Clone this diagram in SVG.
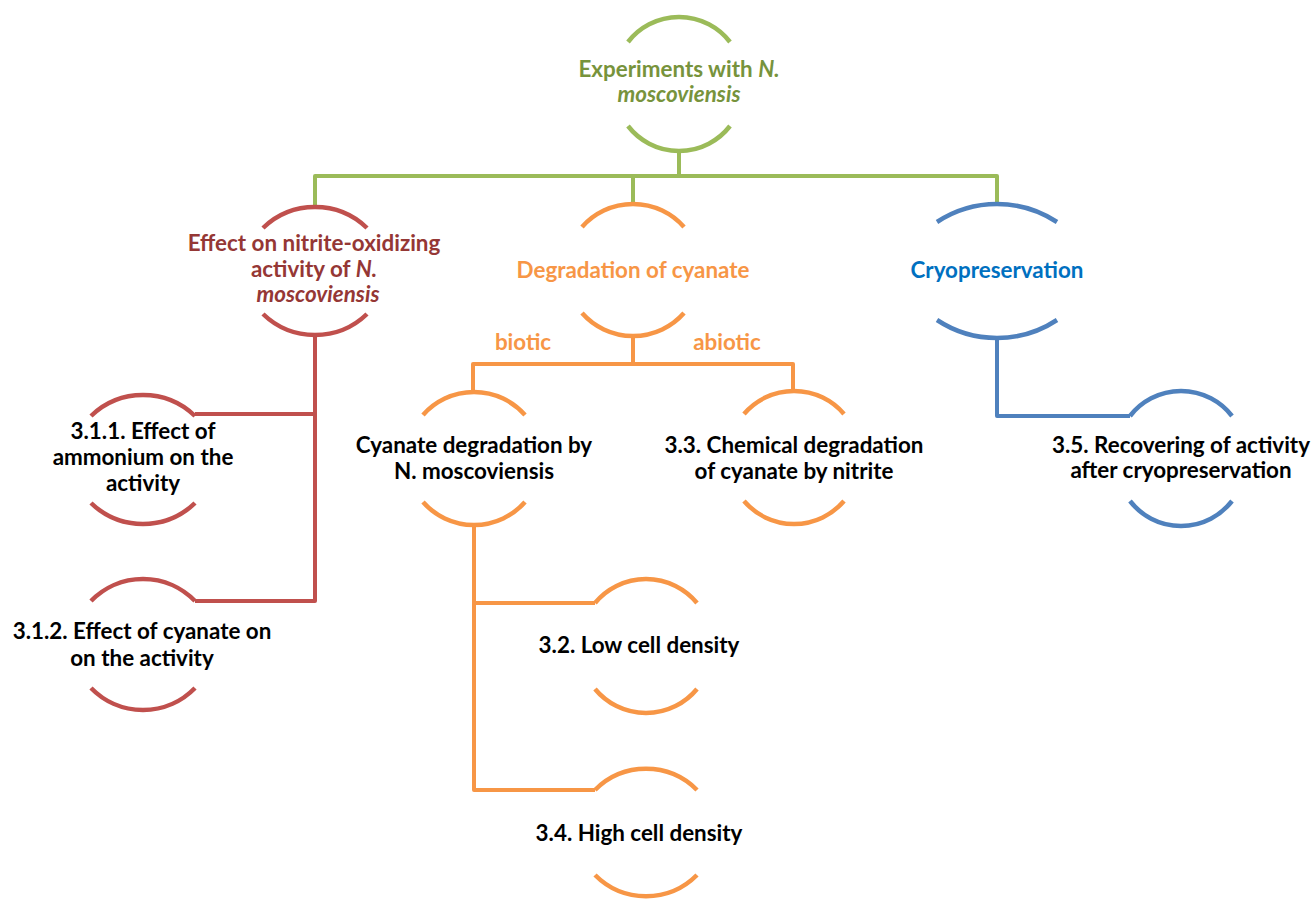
<svg xmlns="http://www.w3.org/2000/svg" width="1315" height="899" viewBox="0 0 1315 899">
<style>
text{font-family:Lato,"Liberation Sans",sans-serif;font-weight:bold;font-size:22.4px;text-anchor:middle}
.i{font-style:italic}
.arc{fill:none;stroke-width:4.5;stroke-linecap:butt}
.con{fill:none;stroke-width:4;stroke-linejoin:round}
.g{stroke:#9BBB59}.r{stroke:#C0504D}.o{stroke:#F79646}.b{stroke:#4F81BD}
.tg{fill:#77933C}.tr{fill:#953735}.to{fill:#F79646}.tb{fill:#0070C0}.tk{fill:#000}
</style>
<rect width="1315" height="899" fill="#fff"/>
<g id="connectors">
<path class="con g" d="M679 149 V176 M315 207 V176 H997 V204 M633 176 V204"/>
<path class="con r" d="M315 335 V601 H195 M315 414 H195"/>
<path class="con o" d="M633 336 V364 M473 393 V364 H793 V392 M474 524 V790 H595 M474 603 H595"/>
<path class="con b" d="M997 338 V416 H1130"/>
<text class="to" x="523" y="350">biotic</text>
<text class="to" x="727" y="350">abiotic</text>
</g>
<g id="node-root">
<path class="arc g" d="M628 42 a64.5 64.5 0 0 1 102 0 M628 126 a64.5 64.5 0 0 0 102 0"/>
<text class="tg" x="679" y="77">Experiments with <tspan class="i">N.</tspan></text>
<text class="tg i" x="679" y="102">moscoviensis</text>
</g>
<g id="node-effect">
<path class="arc r" d="M263 228 a75 75 0 0 1 104 0 M263 314 a75 75 0 0 0 104 0"/>
<text class="tr" x="314" y="251">Effect on nitrite-oxidizing</text>
<text class="tr" x="314" y="277">activity of <tspan class="i">N.</tspan></text>
<text class="tr i" x="318" y="302">moscoviensis</text>
</g>
<g id="node-degradation">
<path class="arc o" d="M582 227 a68 68 0 0 1 102 0 M582 313 a68 68 0 0 0 102 0"/>
<text class="to" x="633" y="278">Degradation of cyanate</text>
</g>
<g id="node-cryo">
<path class="arc b" d="M937 222 a109 109 0 0 1 120 0 M937 320 a109 109 0 0 0 120 0"/>
<text class="tb" x="997" y="278">Cryopreservation</text>
</g>
<g id="node-311">
<path class="arc r" d="M91 416 a75 75 0 0 1 104 0 M91 503 a75 75 0 0 0 104 0"/>
<text class="tk" x="143" y="439">3.1.1. Effect of</text>
<text class="tk" x="143" y="465">ammonium on the</text>
<text class="tk" x="143" y="491">activity</text>
</g>
<g id="node-312">
<path class="arc r" d="M91 601 a72.5 72.5 0 0 1 104 0 M91 688 a72.5 72.5 0 0 0 104 0"/>
<text class="tk" x="142" y="639">3.1.2. Effect of cyanate on</text>
<text class="tk" x="142" y="666">on the activity</text>
</g>
<g id="node-biotic">
<path class="arc o" d="M423 415 a68 68 0 0 1 102 0 M423 502 a68 68 0 0 0 102 0"/>
<text class="tk" x="474" y="453">Cyanate degradation by</text>
<text class="tk" x="474" y="479">N. moscoviensis</text>
</g>
<g id="node-33">
<path class="arc o" d="M744 414 a65.8 65.8 0 0 1 100 0 M744 501 a65.8 65.8 0 0 0 100 0"/>
<text class="tk" x="794" y="453">3.3. Chemical degradation</text>
<text class="tk" x="794" y="479">of cyanate by nitrite</text>
</g>
<g id="node-32">
<path class="arc o" d="M595 603 a66.2 66.2 0 0 1 102 0 M595 689 a66.2 66.2 0 0 0 102 0"/>
<text class="tk" x="639" y="653">3.2. Low cell density</text>
</g>
<g id="node-34">
<path class="arc o" d="M595 790 a72 72 0 0 1 102 0 M595 875 a72 72 0 0 0 102 0"/>
<text class="tk" x="639" y="841">3.4. High cell density</text>
</g>
<g id="node-35">
<path class="arc b" d="M1130 416 a64.5 64.5 0 0 1 102 0 M1130 501 a64.5 64.5 0 0 0 102 0"/>
<text class="tk" x="1181" y="453">3.5. Recovering of activity</text>
<text class="tk" x="1181" y="478">after cryopreservation</text>
</g>
</svg>
